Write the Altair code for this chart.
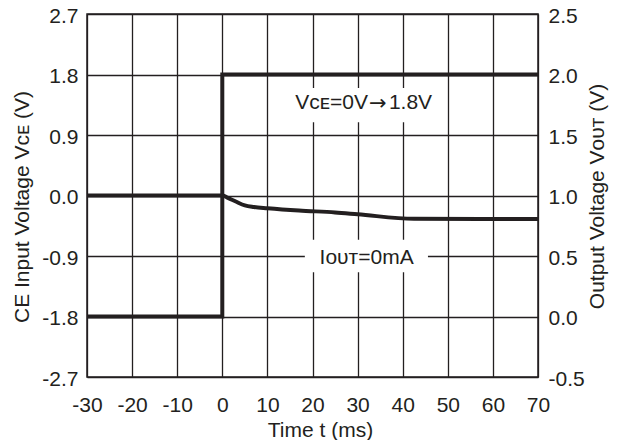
import altair as alt
import pandas as pd

# ---- data ----
vce_t = [-30, 0, 0, 70]
vce_v = [-1.8, -1.8, 1.8, 1.8]

vout_t = [-30, 0, 1, 3, 5, 7, 10, 17, 25, 30, 42.5, 70]
vout_v = [1.0, 1.0, 0.985, 0.95, 0.918, 0.905, 0.895, 0.876, 0.86, 0.845, 0.807, 0.805]

x_ticks = [-30, -20, -10, 0, 10, 20, 30, 40, 50, 60, 70]
left_ticks = [-2.7, -1.8, -0.9, 0.0, 0.9, 1.8, 2.7]
right_ticks = [-0.5, 0.0, 0.5, 1.0, 1.5, 2.0, 2.5]

# annotation "VCE=0V->1.8V" is split around the arrow
vce_left_text = ["V\u1d04\u1d07=0V"]
vce_arrow_text = ["\u2192"]
vce_right_text = ["1.8V"]
vce_lab_t = [34.5]
vce_lab_v = [1.37]

iout_text = ["I\u1d0f\u1d1c\u1d1b=0mA"]
iout_t = [32.0]
iout_v = [-0.93]

box_t1 = [10.4, 18.3]
box_t2 = [47.0, 45.6]
box_v1 = [1.09, -1.14]
box_v2 = [1.60, -0.66]

INK = "#231f20"
FONT = "Liberation Sans"

vce_df = pd.DataFrame({"t": vce_t, "v": vce_v, "i": range(len(vce_t))})
vout_df = pd.DataFrame({"t": vout_t, "v": vout_v, "i": range(len(vout_t))})
vlab_df = pd.DataFrame({"t": vce_lab_t, "v": vce_lab_v, "a": vce_left_text,
                        "b": vce_arrow_text, "c": vce_right_text})
ilab_df = pd.DataFrame({"t": iout_t, "v": iout_v, "label": iout_text})
box_df = pd.DataFrame({"t1": box_t1, "t2": box_t2, "v1": box_v1, "v2": box_v2})

xscale = alt.Scale(domain=[-30, 70], nice=False, zero=False)
yl_scale = alt.Scale(domain=[-2.7, 2.7], nice=False, zero=False)
yr_scale = alt.Scale(domain=[-0.5, 2.5], nice=False, zero=False)

x_axis = alt.Axis(
    values=x_ticks, grid=True, gridColor=INK, gridWidth=1.3, gridOpacity=1,
    ticks=False, domain=False, labelFontSize=21, labelFont=FONT, labelColor=INK,
    labelPadding=17, labelFlush=False,
    labelExpr="(datum.value < 0 ? '-' : '') + format(abs(datum.value), 'd')",
    title="Time t (ms)", titleFont=FONT, titleFontSize=21, titleFontWeight="normal",
    titleColor=INK, titleX=233, titleY=59, titleAlign="center", titleBaseline="alphabetic",
)
yl_axis = alt.Axis(
    values=left_ticks, grid=True, gridColor=INK, gridWidth=1.3, gridOpacity=1,
    ticks=False, domain=False, labelFontSize=21, labelFont=FONT, labelColor=INK,
    labelPadding=9, labelFlush=False, labelOffset=2,
    labelExpr="(datum.value < -0.001 ? '-' : '') + format(abs(datum.value), '.1f')",
    title="CE Input Voltage V\u1d04\u1d07 (V)", titleFont=FONT, titleFontSize=21,
    titleFontWeight="normal", titleColor=INK, titleAngle=270, titleX=-59, titleY=192.5,
    titleAlign="center", titleBaseline="alphabetic",
)
yr_axis = alt.Axis(
    values=right_ticks, grid=False, orient="right",
    ticks=False, domain=False, labelFontSize=21, labelFont=FONT, labelColor=INK,
    labelPadding=10, labelFlush=False, labelOffset=2,
    labelExpr="(datum.value < -0.001 ? '-' : '') + format(abs(datum.value), '.1f')",
    title="Output Voltage V\u1d0f\u1d1c\u1d1b (V)", titleFont=FONT, titleFontSize=21,
    titleFontWeight="normal", titleColor=INK, titleAngle=270, titleX=65, titleY=182,
    titleAlign="center", titleBaseline="alphabetic",
)

boxes = alt.Chart(box_df).mark_rect(color="white", opacity=1).encode(
    x=alt.X("t1:Q", scale=xscale, axis=x_axis),
    x2="t2:Q",
    y=alt.Y("v1:Q", scale=yl_scale, axis=yl_axis),
    y2="v2:Q",
)

vce_line = alt.Chart(vce_df).mark_line(color=INK, strokeWidth=4, strokeJoin="miter").encode(
    x=alt.X("t:Q", scale=xscale),
    y=alt.Y("v:Q", scale=yl_scale),
    order="i:Q",
)

vbase = alt.Chart(vlab_df).encode(
    x=alt.X("t:Q", scale=xscale),
    y=alt.Y("v:Q", scale=yl_scale),
)
vlab_a = vbase.mark_text(font=FONT, fontSize=21, color=INK, align="right",
                         baseline="middle", dx=-10).encode(text="a:N")
vlab_b = vbase.mark_text(font="DejaVu Sans", fontSize=21, color=INK, align="center",
                         baseline="middle", dy=1).encode(text="b:N")
vlab_c = vbase.mark_text(font=FONT, fontSize=21, color=INK, align="left",
                         baseline="middle", dx=11).encode(text="c:N")

ilab = alt.Chart(ilab_df).mark_text(
    font=FONT, fontSize=21, color=INK, align="center", baseline="middle"
).encode(
    x=alt.X("t:Q", scale=xscale),
    y=alt.Y("v:Q", scale=yl_scale),
    text="label:N",
)

left = alt.layer(boxes, vce_line, vlab_a, vlab_b, vlab_c, ilab)

vout_line = alt.Chart(vout_df).mark_line(
    color=INK, strokeWidth=4, interpolate="monotone"
).encode(
    x=alt.X("t:Q", scale=xscale),
    y=alt.Y("v:Q", scale=yr_scale, axis=yr_axis),
    order="i:Q",
)

chart = alt.layer(left, vout_line).resolve_scale(y="independent").properties(
    width=451, height=363,
    autosize=alt.AutoSizeParams(type="none"),
    padding={"left": 79, "top": 6, "right": 76, "bottom": 63},
    background="white",
).configure_view(stroke=INK, strokeWidth=1.5)

chart.save("out.html", embed_options={"renderer": "svg", "actions": False})
